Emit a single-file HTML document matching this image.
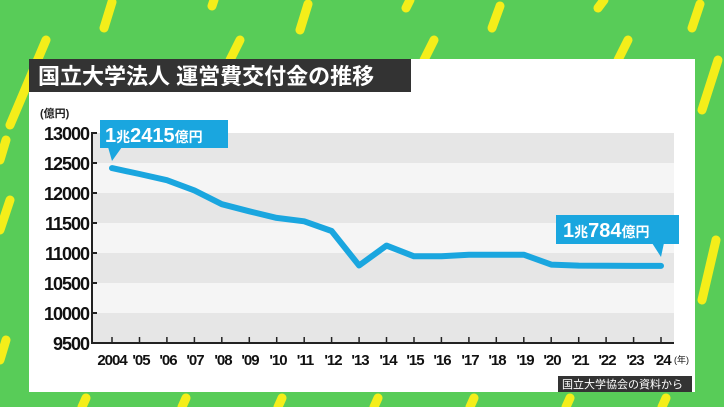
<!DOCTYPE html>
<html><head><meta charset="utf-8"><style>
body{margin:0;width:724px;height:407px;overflow:hidden;background:#58cc58;font-family:"Liberation Sans","Noto Sans CJK JP",sans-serif}
</style></head><body>
<svg width="724" height="407" viewBox="0 0 724 407" xmlns="http://www.w3.org/2000/svg" style="position:absolute;left:0;top:0">
<rect width="724" height="407" fill="#58cc58"/>
<g stroke="#f4ee1a" stroke-width="9" stroke-linecap="round">
<line x1="112" y1="2" x2="104" y2="28"/><line x1="214" y1="0" x2="212" y2="6"/><line x1="308" y1="4" x2="300" y2="30"/>
<line x1="410" y1="0" x2="406" y2="8"/><line x1="500" y1="6" x2="492" y2="28"/><line x1="604" y1="0" x2="598" y2="8"/>
<line x1="700" y1="4" x2="692" y2="28"/><line x1="46" y1="40" x2="10" y2="125"/><line x1="240" y1="40" x2="230" y2="60"/>
<line x1="434" y1="40" x2="424" y2="60"/><line x1="628" y1="40" x2="618" y2="60"/><line x1="718" y1="60" x2="702" y2="110"/>
<line x1="6" y1="140" x2="0" y2="160"/><line x1="10" y1="200" x2="0" y2="230"/><line x1="716" y1="240" x2="702" y2="300"/>
<line x1="6" y1="340" x2="0" y2="360"/><line x1="86" y1="398" x2="82" y2="407"/><line x1="186" y1="398" x2="182" y2="407"/>
<line x1="282" y1="398" x2="278" y2="407"/><line x1="378" y1="398" x2="374" y2="407"/><line x1="474" y1="398" x2="470" y2="407"/>
<line x1="570" y1="398" x2="566" y2="407"/><line x1="666" y1="398" x2="662" y2="407"/>
</g>
<rect x="29" y="59" width="666" height="333" fill="#fff"/>
<rect x="29" y="59" width="382" height="33" fill="#333"/>
<text x="38" y="84" font-size="22" font-weight="bold" fill="#fff">国立大学法人 運営費交付金の推移</text>
<text x="40" y="117" font-size="11" font-weight="bold" fill="#222">(億円)</text>
<g>
<rect x="92" y="133" width="582" height="30" fill="#e6e6e6"/>
<rect x="92" y="163" width="582" height="30" fill="#f5f5f5"/>
<rect x="92" y="193" width="582" height="30" fill="#e6e6e6"/>
<rect x="92" y="223" width="582" height="30" fill="#f5f5f5"/>
<rect x="92" y="253" width="582" height="30" fill="#e6e6e6"/>
<rect x="92" y="283" width="582" height="30" fill="#f5f5f5"/>
<rect x="92" y="313" width="582" height="30" fill="#e6e6e6"/>
</g>
<g stroke="#222" stroke-width="2" fill="none">
<polyline points="97,133 92,133 92,343 674,343"/>
<line x1="92" y1="163" x2="97" y2="163"/><line x1="92" y1="193" x2="97" y2="193"/><line x1="92" y1="223" x2="97" y2="223"/>
<line x1="92" y1="253" x2="97" y2="253"/><line x1="92" y1="283" x2="97" y2="283"/><line x1="92" y1="313" x2="97" y2="313"/>
</g>
<g stroke="#222" stroke-width="1.5">
<line x1="112" y1="343" x2="112" y2="337"/><line x1="139.5" y1="343" x2="139.5" y2="337"/><line x1="166.9" y1="343" x2="166.9" y2="337"/><line x1="194.4" y1="343" x2="194.4" y2="337"/><line x1="221.8" y1="343" x2="221.8" y2="337"/><line x1="249.3" y1="343" x2="249.3" y2="337"/><line x1="276.7" y1="343" x2="276.7" y2="337"/><line x1="304.2" y1="343" x2="304.2" y2="337"/><line x1="331.6" y1="343" x2="331.6" y2="337"/><line x1="359.1" y1="343" x2="359.1" y2="337"/><line x1="386.5" y1="343" x2="386.5" y2="337"/><line x1="414" y1="343" x2="414" y2="337"/><line x1="441.4" y1="343" x2="441.4" y2="337"/><line x1="468.9" y1="343" x2="468.9" y2="337"/><line x1="496.3" y1="343" x2="496.3" y2="337"/><line x1="523.8" y1="343" x2="523.8" y2="337"/><line x1="551.2" y1="343" x2="551.2" y2="337"/><line x1="578.7" y1="343" x2="578.7" y2="337"/><line x1="606.1" y1="343" x2="606.1" y2="337"/><line x1="633.6" y1="343" x2="633.6" y2="337"/><line x1="661" y1="343" x2="661" y2="337"/>
</g>
<g font-size="18" fill="#111" text-anchor="end" font-weight="bold" letter-spacing="-1">
<text x="89" y="140">13000</text><text x="89" y="170">12500</text><text x="89" y="200">12000</text><text x="89" y="230">11500</text>
<text x="89" y="260">11000</text><text x="89" y="290">10500</text><text x="89" y="320">10000</text><text x="89" y="350">9500</text>
</g>
<g font-size="15" fill="#111" text-anchor="middle" font-weight="bold" letter-spacing="-1">
<text x="112" y="365">2004</text><text x="141" y="365">'05</text><text x="168" y="365">'06</text><text x="195" y="365">'07</text><text x="223" y="365">'08</text><text x="250" y="365">'09</text><text x="278" y="365">'10</text><text x="305" y="365">'11</text><text x="333" y="365">'12</text><text x="360" y="365">'13</text><text x="388" y="365">'14</text><text x="415" y="365">'15</text><text x="442" y="365">'16</text><text x="470" y="365">'17</text><text x="497" y="365">'18</text><text x="525" y="365">'19</text><text x="552" y="365">'20</text><text x="580" y="365">'21</text><text x="607" y="365">'22</text><text x="635" y="365">'23</text><text x="662" y="365">'24</text>
</g>
<text x="674" y="363" font-size="9" fill="#111">(年)</text>
<polyline fill="none" stroke="#1aa6df" stroke-width="6" stroke-linejoin="round" stroke-linecap="round" points="112,168.1 139.5,174 166.9,180.2 194.4,190.4 221.8,204.2 249.3,211.3 276.7,217.9 304.2,221.3 331.6,231 359.1,265.5 386.5,245.6 414,256.3 441.4,256.3 468.9,254.7 496.3,254.7 523.8,254.7 551.2,264.6 578.7,265.6 606.1,265.8 633.6,265.9 661,265.9"/>
<rect x="100" y="120" width="128" height="28" fill="#1aa6df"/>
<polygon points="108,147 122,147 112,161" fill="#1aa6df"/>
<text x="105" y="142" font-size="20" font-weight="bold" fill="#fff">1<tspan font-size="14">兆</tspan>2415<tspan font-size="14">億円</tspan></text>
<rect x="556" y="215" width="123" height="29" fill="#1aa6df"/>
<polygon points="652,243 664,243 661,257" fill="#1aa6df"/>
<text x="563" y="237" font-size="20" font-weight="bold" fill="#fff">1<tspan font-size="14">兆</tspan>784<tspan font-size="14">億円</tspan></text>
<rect x="558" y="376" width="134" height="16" fill="#333"/>
<text x="562" y="388" font-size="11" fill="#fff">国立大学協会の資料から</text>
</svg>
</body></html>
